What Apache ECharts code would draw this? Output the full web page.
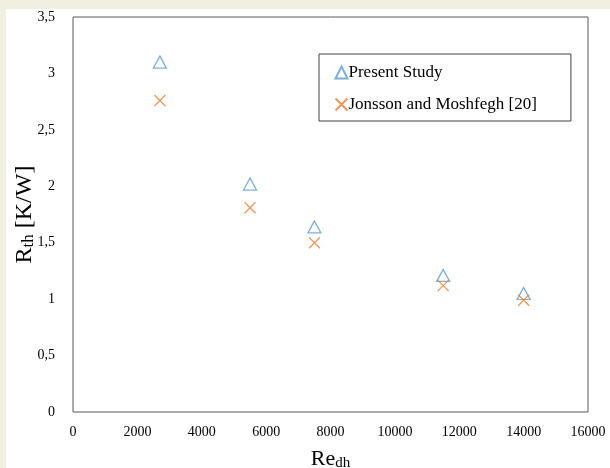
<!DOCTYPE html>
<html><head><meta charset="utf-8">
<script src="https://cdn.jsdelivr.net/npm/echarts@6/dist/echarts.min.js"></script>
<style>html,body{margin:0;padding:0;background:#F1EFDF;}#c{width:610px;height:468px;}</style>
</head><body><div id="c"></div>
<script>
const reynolds = [2700, 5500, 7500, 11500, 14000];
const presentStudy = [3.10, 2.02, 1.64, 1.21, 1.05];
const jonsson = [2.76, 1.81, 1.50, 1.12, 0.99];
const seriesNames = ['Present Study', 'Jonsson and Moshfegh [20]'];

const serif = '"Liberation Serif","Times New Roman",serif';
const crossPath = 'path://M0,0L10,10M10,0L0,10';
const chart = echarts.init(document.getElementById('c'));
chart.setOption({
  backgroundColor: '#F1EFDF',
  animation: false,
  graphic: [{type: 'rect', z: -10, silent: true, shape: {x: 6, y: 9, width: 610, height: 470}, style: {fill: '#ffffff'}}],
  grid: {left: 73, top: 17, right: 22, bottom: 56, outerBoundsMode: 'none', containLabel: false,
         show: true, borderColor: '#595959', borderWidth: 1, backgroundColor: 'transparent'},
  legend: {
    orient: 'vertical', left: 319, top: 54,
    padding: [10, 34, 8, 14], itemGap: 15,
    borderColor: '#404040', borderWidth: 1,
    itemWidth: 12, itemHeight: 12,
    textStyle: {fontFamily: serif, fontSize: 17, color: '#000', padding: [0, 0, 0, -4]},
    data: seriesNames
  },
  xAxis: {
    type: 'value', min: 0, max: 16000, interval: 2000,
    axisLine: {show: false}, axisTick: {show: false}, splitLine: {show: false},
    axisLabel: {fontFamily: serif, fontSize: 14, color: '#000', margin: 13,
      formatter: v => String(v)},
    name: '{a|Re}{b|dh}', nameLocation: 'middle', nameGap: 36,
    nameTextStyle: {rich: {a: {fontFamily: serif, fontSize: 22, color: '#000'}, b: {fontFamily: serif, fontSize: 15, color: '#000', padding: [8, 0, 0, 0]}}}
  },
  yAxis: {
    type: 'value', min: 0, max: 3.5, interval: 0.5,
    axisLine: {show: false}, axisTick: {show: false}, splitLine: {show: false},
    axisLabel: {fontFamily: serif, fontSize: 14, color: '#000', margin: 18,
      formatter: v => String(v).replace('.', ',')},
    name: '{a|R}{b|th}{a| [K/W]}', nameLocation: 'middle', nameGap: 36, nameRotate: 90,
    nameMoveOverlap: false,
    nameTextStyle: {rich: {a: {fontFamily: serif, fontSize: 24, color: '#000'}, b: {fontFamily: serif, fontSize: 17, color: '#000', padding: [8, 0, 0, 0]}}}
  },
  series: [
    {name: seriesNames[0], type: 'scatter', symbol: 'triangle', symbolSize: [13, 12],
     itemStyle: {color: 'rgba(255,255,255,0)', borderColor: '#5B9BD5', borderWidth: 1.3},
     data: reynolds.map((x, i) => [x, presentStudy[i]])},
    {name: seriesNames[1], type: 'scatter', symbol: crossPath, symbolSize: 11,
     itemStyle: {color: 'none', borderColor: '#ED7D31', borderWidth: 1.3},
     data: reynolds.map((x, i) => [x, jonsson[i]])}
  ]
});
</script></body></html>
